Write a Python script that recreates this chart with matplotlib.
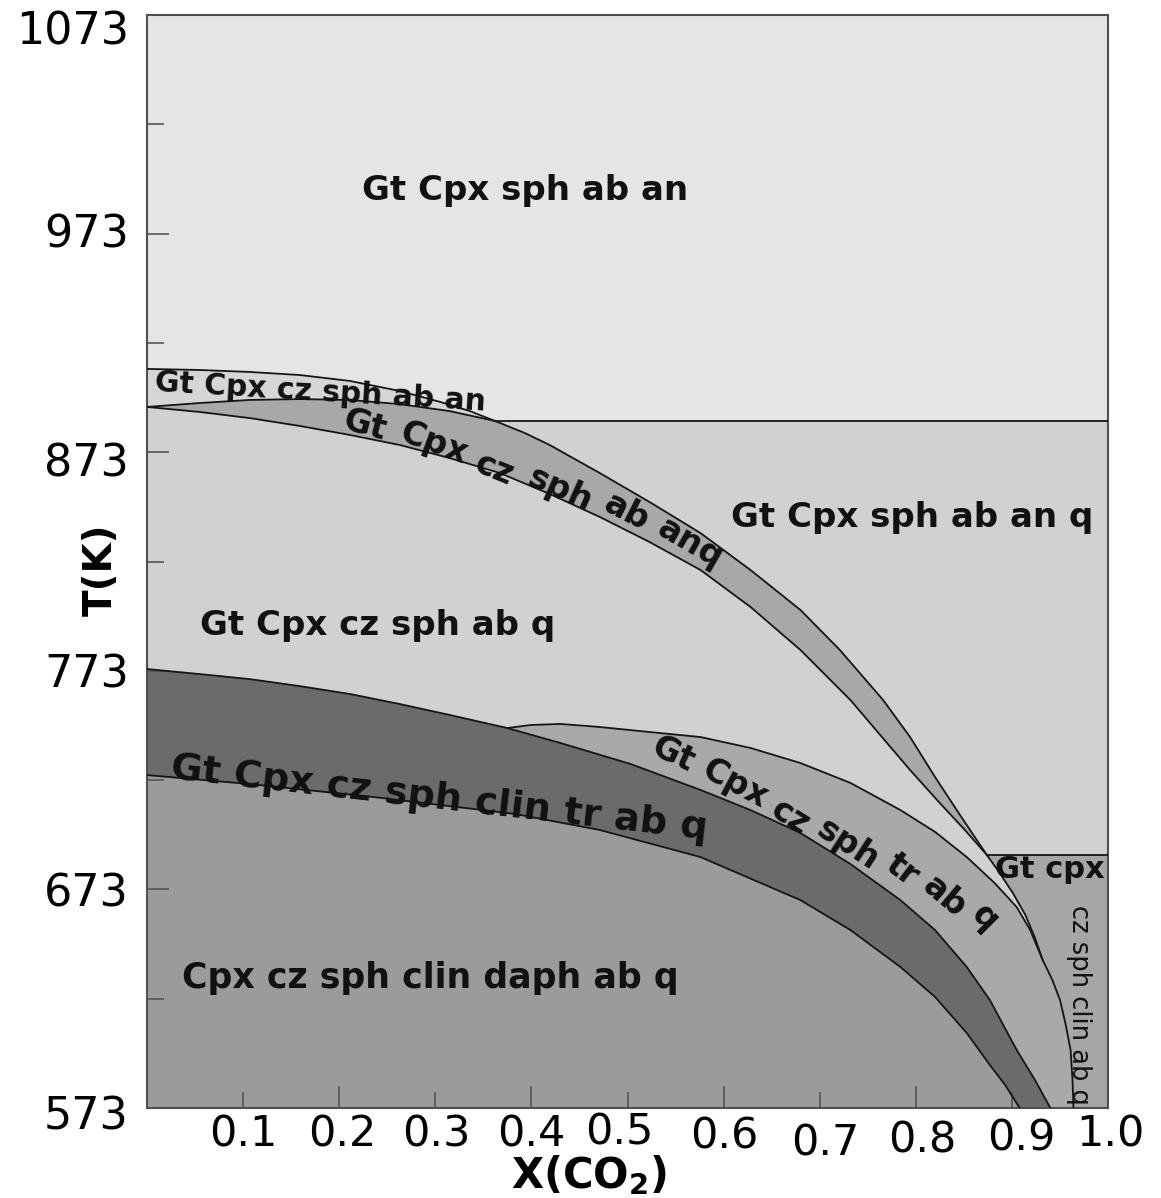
import matplotlib
matplotlib.use("Agg")
import matplotlib.pyplot as plt
from matplotlib.transforms import ScaledTranslation

# phase boundaries, X(CO2) against T (K)
# A: top of the thin Gt Cpx cz sph ab an field
a_x = [0, 0.055, 0.107, 0.159, 0.211, 0.263, 0.305, 0.336, 0.362]
a_T = [911.1, 910.6, 909.7, 908.3, 905.6, 901.0, 896.0, 891.8, 887.3]

# C: upper edge of the "ab an q" band (left part under the thin field, then the right part)
c_x = [0, 0.055, 0.107, 0.159, 0.211, 0.263, 0.315, 0.362,
       0.393, 0.419, 0.471, 0.523, 0.576, 0.628, 0.680, 0.721, 0.766, 0.794, 0.820, 0.846, 0.874]
c_T = [893.7, 895.5, 896.9, 897.3, 896.9, 895.0, 891.8, 887.3,
       881.8, 876.3, 863.5, 850.2, 836.0, 819.1, 800.8, 782.5, 759.6, 742.7, 724.4, 707.0, 688.7]
c_split = 7

# B: lower edge of the "ab an q" band
b_x = [0, 0.055, 0.107, 0.159, 0.211, 0.263, 0.315, 0.367, 0.419, 0.471,
       0.523, 0.576, 0.628, 0.680, 0.732, 0.763, 0.794, 0.825, 0.851, 0.874]
b_T = [893.7, 891.4, 888.6, 885.0, 880.9, 876.3, 870.3, 863.5, 853.9, 843.4,
       831.9, 819.1, 802.2, 782.5, 759.6, 743.6, 727.6, 712.5, 700.2, 688.7]

# flat reactions
an_T = 887.3
gtcpx_T = 688.7

# G: left edge of the Gt cpx cz sph clin ab q field
g_x = [0.874, 0.888, 0.901, 0.914, 0.924, 0.932, 0.942, 0.950, 0.956, 0.961, 0.963, 0.964]
g_T = [688.7, 680.0, 671.3, 661.3, 650.8, 640.7, 631.6, 622.4, 611.0, 599.5, 585.8, 573.0]

# F: top of the tr band
f_x = [0.375, 0.399, 0.430, 0.471, 0.523, 0.576, 0.628, 0.680, 0.732, 0.784,
       0.820, 0.853, 0.882, 0.905, 0.919, 0.932]
f_T = [746.8, 748.2, 748.7, 747.3, 745.0, 742.7, 737.7, 730.8, 721.7, 709.3,
       699.3, 687.8, 675.9, 664.9, 654.4, 640.7]

# D: top of the clin tr band
d_x = [0, 0.055, 0.107, 0.159, 0.211, 0.263, 0.315, 0.375, 0.430, 0.503, 0.576,
       0.628, 0.680, 0.732, 0.784, 0.820, 0.853, 0.877, 0.905, 0.924, 0.940]
d_T = [773.8, 771.5, 769.2, 766.0, 762.4, 757.8, 752.8, 746.8, 740.0, 730.4, 718.5,
       709.3, 698.8, 684.6, 668.1, 654.4, 637.5, 622.4, 599.5, 585.8, 573.0]
d_split = 7

# E: bottom of the clin tr band
e_x = [0, 0.107, 0.235, 0.315, 0.383, 0.471, 0.576, 0.680, 0.732, 0.784,
       0.820, 0.853, 0.877, 0.893, 0.908]
e_T = [725.3, 721.2, 715.3, 711.1, 707.5, 700.2, 687.8, 668.1, 654.4, 637.5,
       623.8, 607.3, 592.7, 583.5, 573.0]

y_ticks = [573, 673, 773, 873, 973, 1073]
y_minor = [623, 723, 823, 923, 1023]
x_ticks = [0.1, 0.2, 0.3, 0.4, 0.5, 0.6, 0.7, 0.8, 0.9, 1.0]
x_labels = ["0.1", "0.2", "0.3", "0.4", "0.5", "0.6", "0.7", "0.8", "0.9", "1.0"]

fields = [
    ("Gt Cpx sph ab an", 0.393, 992.9, 24.5, 0),
    ("Gt Cpx cz sph ab an", 0.180, 900.3, 21.5, -3.4),
    ("Gt Cpx sph ab an q", 0.796, 842.9, 24.5, 0),
    ("Gt Cpx cz sph ab q", 0.240, 793.5, 24.5, 0),
    ("Gt Cpx cz sph clin tr ab q", 0.304, 714.5, 27.5, -6.5),
    ("Cpx cz sph clin daph ab q", 0.2945, 632.5, 25, 0),
    ("Gt cpx", 0.9396, 681.9, 22, 0),
]
# curved labels, one word at a time along the band
curved = [
    ("Gt", 0.227, 885.4, -15), ("Cpx", 0.298, 877.2, -20), ("cz", 0.361, 865.0, -22),
    ("sph", 0.430, 855.7, -24), ("ab", 0.4995, 845.6, -27), ("anq", 0.565, 831.5, -30),
    ("Gt", 0.547, 734.9, -25), ("Cpx", 0.612, 721.2, -28), ("cz", 0.669, 706.1, -32),
    ("sph", 0.729, 693.3, -33), ("tr", 0.786, 681.9, -37), ("ab", 0.830, 669.5, -40),
    ("q", 0.872, 659.9, -45),
]

fig = plt.figure(figsize=(11.61, 11.98), dpi=100)
ax = fig.add_axes([0.1266, 0.0751, 0.8278, 0.9124])
ax.set_facecolor("#e5e5e5")
ax.set_xlim(0, 1)
ax.set_ylim(573, 1073)

line = dict(color="#151515", lw=1.3, zorder=5)

# fields, back to front
ax.fill(a_x + [1, 1, 0], a_T + [an_T, 573, 573], color="#d1d1d1", lw=0)
ax.fill(a_x + c_x[:c_split + 1][::-1], a_T + c_T[:c_split + 1][::-1], color="#d6d6d6", lw=0)
ax.fill(c_x + b_x[::-1], c_T + b_T[::-1], color="#a8a8a8", lw=0)
ax.fill([g_x[0], 1, 1] + g_x[::-1], [gtcpx_T, gtcpx_T, 573] + g_T[::-1], color="#a6a6a6", lw=0)
ax.fill(f_x + g_x[6:] + d_x[d_split:][::-1], f_T + g_T[6:] + d_T[d_split:][::-1],
        color="#a9a9a9", lw=0)
ax.fill(d_x + e_x[::-1], d_T + e_T[::-1], color="#6b6b6b", lw=0)
ax.fill(e_x + [0], e_T + [573], color="#9b9b9b", lw=0)

ax.plot(a_x, a_T, **line)
ax.plot(c_x, c_T, **line)
ax.plot(b_x, b_T, **line)
ax.plot([a_x[-1], 1], [an_T, an_T], **line)
ax.plot([g_x[0], 1], [gtcpx_T, gtcpx_T], **line)
ax.plot(g_x, g_T, **line)
ax.plot(f_x, f_T, **line)
ax.plot(d_x, d_T, **line)
ax.plot(e_x, e_T, **line)

for s, x, t, size, rot in fields:
    ax.text(x, t, s, fontsize=size, fontweight="bold", rotation=rot, rotation_mode="anchor",
            ha="center", va="center", color="#111111", zorder=6)
for s, x, t, rot in curved:
    ax.text(x, t, s, fontsize=24, fontweight="bold", rotation=rot, rotation_mode="anchor",
            ha="center", va="center", color="#111111", zorder=6)
ax.text(0.970, 620.0, "cz sph clin ab q", fontsize=18.5, rotation=-90, rotation_mode="anchor",
        ha="center", va="center", color="#111111", zorder=6)

for sp in ax.spines.values():
    sp.set_color("#505050")
    sp.set_linewidth(1.5)

ax.set_xticks(x_ticks, x_labels)
ax.set_yticks(y_ticks, [str(v) for v in y_ticks])
ax.set_yticks(y_minor, minor=True)
ax.tick_params(direction="in", width=1.2, color="#555555", labelsize=31)
ax.tick_params(axis="x", length=15, pad=4)
ax.tick_params(axis="y", which="major", length=16, pad=13, labelsize=32)
ax.tick_params(axis="y", which="minor", direction="in", length=12, width=1.2, color="#555555")

for i, tk in enumerate(ax.xaxis.get_major_ticks()):
    tk.tick1line.set_markersize(11.5 if i % 2 == 0 else 16)

ax.set_xlabel("X(CO$_\\mathbf{2}$)", fontsize=30, fontweight="bold")
ax.xaxis.label.set_verticalalignment("baseline")
ax.xaxis.set_label_coords(0.46, -0.0735)
ax.set_ylabel("T(K)", fontsize=28, fontweight="bold")
ax.yaxis.set_label_coords(-0.028, 0.492)

# hand-set nudges of the tick labels, in pixels
x_dx = [0, 3, 1, 0, -8, 1, 6, 6, 9, 2]
x_dy = [0, 0, 0, 0, 2, -2, -9, -6, -4, 0]
for lab, dx, dy in zip(ax.get_xticklabels(), x_dx, x_dy):
    lab.set_transform(lab.get_transform() + ScaledTranslation(dx / 100, dy / 100, fig.dpi_scale_trans))
y_dy = [-4, 0, 0, -7, 3, -13]
for lab, dy in zip(ax.get_yticklabels(), y_dy):
    lab.set_transform(lab.get_transform() + ScaledTranslation(0, dy / 100, fig.dpi_scale_trans))

fig.savefig("out.png", dpi=100)
